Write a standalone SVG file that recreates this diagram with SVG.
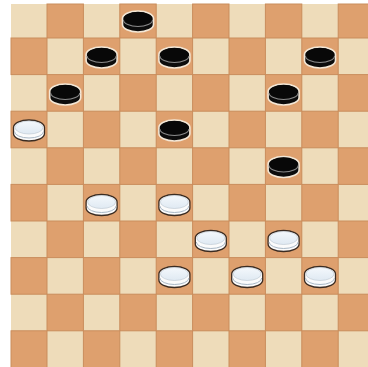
<svg xmlns="http://www.w3.org/2000/svg" xmlns:xlink="http://www.w3.org/1999/xlink" width="368" height="367" viewBox="0 0 368 367">
<style>
.bg{fill:#ffffff}
.light{fill:#eedcba}
.dark{fill:#dea06e;stroke:#c98d5c;stroke-width:1}
</style>
<defs>
<linearGradient id="wtop" x1="0" y1="0" x2="0" y2="1">
<stop offset="0" stop-color="#f4f8fc"/>
<stop offset="1" stop-color="#dfe9f2"/>
</linearGradient>
<g id="bp">
<path d="M-15.5,-3 A15.5,7.5 0 0 1 15.5,-3 L15.5,3 A15.5,7.5 0 0 1 -15.5,3 Z" fill="#0c0c0c" stroke="#f3e7d6" stroke-width="1.6"/>
<path d="M-14.5,-1.5 A14.5,6.5 0 0 0 14.5,-1.5" fill="none" stroke="#8a8a8a" stroke-width="1.1"/>
<ellipse cx="0" cy="-3" rx="14" ry="6.5" fill="#080808"/>
</g>
<g id="wp">
<path d="M-15.5,-3 A15.5,7.5 0 0 1 15.5,-3 L15.5,3 A15.5,7.5 0 0 1 -15.5,3 Z" fill="#fbfbfb" stroke="#3b2c22" stroke-width="1.3"/>
<path d="M-14.5,1 A14.5,6.5 0 0 0 14.5,1" fill="none" stroke="#a9b8c6" stroke-width="1"/>
<ellipse cx="0" cy="-3" rx="14" ry="6.5" fill="url(#wtop)" stroke="#b8c4cf" stroke-width="0.6"/>
</g>
</defs>
<rect class="bg" x="0" y="0" width="368" height="367"/>
<g id="board">
<rect class="light" x="11" y="4" width="357" height="363"/>
<!-- row 0 -->
<rect class="dark" x="47" y="4" width="36.4" height="34"/>
<rect class="dark" x="119.8" y="4" width="36.4" height="34"/>
<rect class="dark" x="192.6" y="4" width="36.4" height="34"/>
<rect class="dark" x="265.4" y="4" width="36.4" height="34"/>
<rect class="dark" x="338.2" y="4" width="30.8" height="34"/>
<!-- row 1 -->
<rect class="dark" x="11" y="38" width="36" height="36.6"/>
<rect class="dark" x="83.4" y="38" width="36.4" height="36.6"/>
<rect class="dark" x="156.2" y="38" width="36.4" height="36.6"/>
<rect class="dark" x="229" y="38" width="36.4" height="36.6"/>
<rect class="dark" x="301.8" y="38" width="36.4" height="36.6"/>
<!-- row 2 -->
<rect class="dark" x="47" y="74.6" width="36.4" height="36.6"/>
<rect class="dark" x="119.8" y="74.6" width="36.4" height="36.6"/>
<rect class="dark" x="192.6" y="74.6" width="36.4" height="36.6"/>
<rect class="dark" x="265.4" y="74.6" width="36.4" height="36.6"/>
<rect class="dark" x="338.2" y="74.6" width="30.8" height="36.6"/>
<!-- row 3 -->
<rect class="dark" x="11" y="111.2" width="36" height="36.6"/>
<rect class="dark" x="83.4" y="111.2" width="36.4" height="36.6"/>
<rect class="dark" x="156.2" y="111.2" width="36.4" height="36.6"/>
<rect class="dark" x="229" y="111.2" width="36.4" height="36.6"/>
<rect class="dark" x="301.8" y="111.2" width="36.4" height="36.6"/>
<!-- row 4 -->
<rect class="dark" x="47" y="147.8" width="36.4" height="36.6"/>
<rect class="dark" x="119.8" y="147.8" width="36.4" height="36.6"/>
<rect class="dark" x="192.6" y="147.8" width="36.4" height="36.6"/>
<rect class="dark" x="265.4" y="147.8" width="36.4" height="36.6"/>
<rect class="dark" x="338.2" y="147.8" width="30.8" height="36.6"/>
<!-- row 5 -->
<rect class="dark" x="11" y="184.4" width="36" height="36.6"/>
<rect class="dark" x="83.4" y="184.4" width="36.4" height="36.6"/>
<rect class="dark" x="156.2" y="184.4" width="36.4" height="36.6"/>
<rect class="dark" x="229" y="184.4" width="36.4" height="36.6"/>
<rect class="dark" x="301.8" y="184.4" width="36.4" height="36.6"/>
<!-- row 6 -->
<rect class="dark" x="47" y="221" width="36.4" height="36.6"/>
<rect class="dark" x="119.8" y="221" width="36.4" height="36.6"/>
<rect class="dark" x="192.6" y="221" width="36.4" height="36.6"/>
<rect class="dark" x="265.4" y="221" width="36.4" height="36.6"/>
<rect class="dark" x="338.2" y="221" width="30.8" height="36.6"/>
<!-- row 7 -->
<rect class="dark" x="11" y="257.6" width="36" height="36.6"/>
<rect class="dark" x="83.4" y="257.6" width="36.4" height="36.6"/>
<rect class="dark" x="156.2" y="257.6" width="36.4" height="36.6"/>
<rect class="dark" x="229" y="257.6" width="36.4" height="36.6"/>
<rect class="dark" x="301.8" y="257.6" width="36.4" height="36.6"/>
<!-- row 8 -->
<rect class="dark" x="47" y="294.2" width="36.4" height="36.6"/>
<rect class="dark" x="119.8" y="294.2" width="36.4" height="36.6"/>
<rect class="dark" x="192.6" y="294.2" width="36.4" height="36.6"/>
<rect class="dark" x="265.4" y="294.2" width="36.4" height="36.6"/>
<rect class="dark" x="338.2" y="294.2" width="30.8" height="36.6"/>
<!-- row 9 -->
<rect class="dark" x="11" y="330.8" width="36" height="37"/>
<rect class="dark" x="83.4" y="330.8" width="36.4" height="37"/>
<rect class="dark" x="156.2" y="330.8" width="36.4" height="37"/>
<rect class="dark" x="229" y="330.8" width="36.4" height="37"/>
<rect class="dark" x="301.8" y="330.8" width="36.4" height="37"/>
</g>
<g id="black-pieces">
<g id="b1"><use xlink:href="#bp" x="138" y="21.5"/></g>
<g id="b2"><use xlink:href="#bp" x="101.6" y="57.5"/></g>
<g id="b3"><use xlink:href="#bp" x="174.4" y="57.5"/></g>
<g id="b4"><use xlink:href="#bp" x="320" y="57.5"/></g>
<g id="b5"><use xlink:href="#bp" x="65.2" y="94.5"/></g>
<g id="b6"><use xlink:href="#bp" x="283.6" y="94.5"/></g>
<g id="b7"><use xlink:href="#bp" x="174.4" y="130.5"/></g>
<g id="b8"><use xlink:href="#bp" x="283.6" y="167"/></g>
</g>
<g id="white-pieces">
<g id="w1"><use xlink:href="#wp" x="29" y="130.5"/></g>
<g id="w2"><use xlink:href="#wp" x="101.6" y="205"/></g>
<g id="w3"><use xlink:href="#wp" x="174.4" y="205"/></g>
<g id="w4"><use xlink:href="#wp" x="210.8" y="241"/></g>
<g id="w5"><use xlink:href="#wp" x="283.6" y="241"/></g>
<g id="w6"><use xlink:href="#wp" x="174.4" y="277"/></g>
<g id="w7"><use xlink:href="#wp" x="247.2" y="277"/></g>
<g id="w8"><use xlink:href="#wp" x="320" y="277"/></g>
</g>
</svg>
